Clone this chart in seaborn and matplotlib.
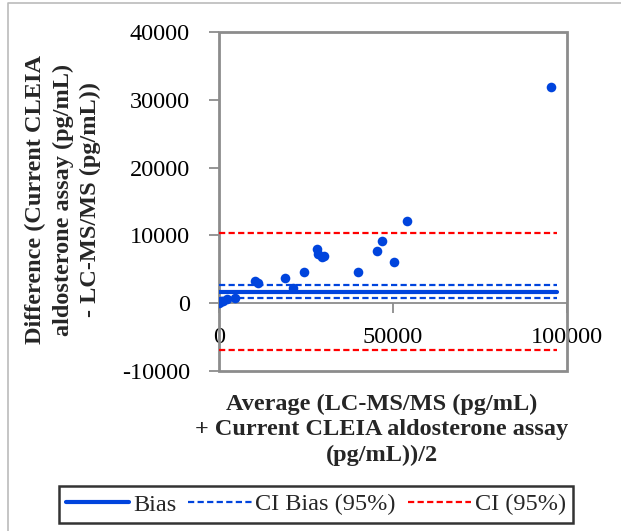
import matplotlib
matplotlib.use("Agg")
import matplotlib.pyplot as plt
import seaborn as sns
import pandas as pd
from matplotlib.patches import Rectangle
from matplotlib.lines import Line2D

# ---- data ----
average = [100, 300, 600, 1200, 2200, 4600, 10300, 11300, 19000, 21400, 24500,
           28100, 28500, 29500, 30200, 39800, 45300, 46900, 50300, 54100, 95300]
difference = [50, 200, 250, 340, 550, 780, 3300, 3000, 3740, 2260, 4630,
              7980, 7240, 6750, 6940, 4580, 7680, 9200, 6060, 12070, 31870]
bias = 1700
ci_bias = [700, 2700]
ci = [-7000, 10300]
line_x = [0, 97000]
x_ticks = [0, 50000, 100000]
y_ticks = [-10000, 0, 10000, 20000, 30000, 40000]

sns.set_theme(style="white")
plt.rcParams['font.family'] = ['Liberation Serif', 'DejaVu Serif']

BLUE = '#0044DD'
RED = '#FF0000'
GRAY = '#8C8C8C'
FS = 17.5
DASH = (0, (2.8, 1.5))

fig = plt.figure(figsize=(6.21, 5.31), dpi=100)
ax = fig.add_axes([219/621, 1-370.7/531, (567-219)/621, (370.7-32.3)/531])

df = pd.DataFrame({"Average": average, "Difference": difference})
sns.scatterplot(data=df, x="Average", y="Difference", ax=ax, color=BLUE,
                s=48, edgecolor=BLUE, linewidth=0, zorder=5)

ax.hlines(bias, line_x[0], line_x[1], color=BLUE, lw=3.0, capstyle='round', zorder=4)
for v in ci_bias:
    ax.hlines(v, line_x[0], line_x[1], color=BLUE, lw=1.6, linestyles=DASH, zorder=4)
for v in ci:
    ax.hlines(v, line_x[0], line_x[1], color=RED, lw=1.6, linestyles=DASH, zorder=4)

for s in ['top', 'right', 'left']:
    ax.spines[s].set_visible(False)
ax.spines['bottom'].set_position(('data', 0))
ax.spines['bottom'].set_color(GRAY)
ax.spines['bottom'].set_linewidth(1.3)

ax.set_xlim(0, 100000)
ax.set_ylim(-10000, 40000)
ax.set_xticks(x_ticks)
ax.set_yticks(y_ticks)
ax.set_xticklabels([str(t) for t in x_ticks], fontsize=FS)
ax.set_yticklabels([str(t) for t in y_ticks], fontsize=FS)

ax.add_patch(Rectangle((0, 0), 1, 1, transform=ax.transAxes, fill=False,
                       edgecolor=GRAY, lw=2.0, clip_on=False, zorder=1))

ax.tick_params(axis='y', direction='out', length=7, width=1.3, color=GRAY, pad=14,
               left=True, labelcolor='black')
ax.tick_params(axis='x', direction='out', length=7, width=1.3, color=GRAY, pad=10,
               bottom=True, labelcolor='black')
ax.set_xlabel("")
ax.set_ylabel("")

fig.text(63/621, 1-200/531,
         "Difference (Current CLEIA\naldosterone assay (pg/mL)\n- LC-MS/MS (pg/mL))",
         rotation=90, ha='center', va='center', fontsize=FS, fontweight='bold',
         linespacing=1.4)
fig.text(382/621, 1-430/531,
         "Average (LC-MS/MS (pg/mL)\n+ Current CLEIA aldosterone assay\n(pg/mL))/2",
         ha='center', va='center', fontsize=FS, fontweight='bold', linespacing=1.28)

handles = [Line2D([], [], color=BLUE, lw=3.0, solid_capstyle='round'),
           Line2D([], [], color=BLUE, lw=1.6, ls=DASH),
           Line2D([], [], color=RED, lw=1.6, ls=DASH)]
leg = fig.legend(handles, ["Bias", "CI Bias (95%)", "CI (95%)"], ncol=3,
                 loc='center', bbox_to_anchor=(316/621, 1-504.5/531), fontsize=FS,
                 frameon=True, fancybox=False, handlelength=2.6, handletextpad=0.15,
                 columnspacing=0.5, borderpad=0.3, borderaxespad=0)
leg.get_frame().set_edgecolor('black')
leg.get_frame().set_linewidth(1.8)

fig.lines.append(Line2D([8/621, 8/621, 1.0], [0.0, 1-3/531, 1-3/531],
                        transform=fig.transFigure, color='#BBBBBB', lw=1.2))

fig.savefig("out.png", dpi=100)
